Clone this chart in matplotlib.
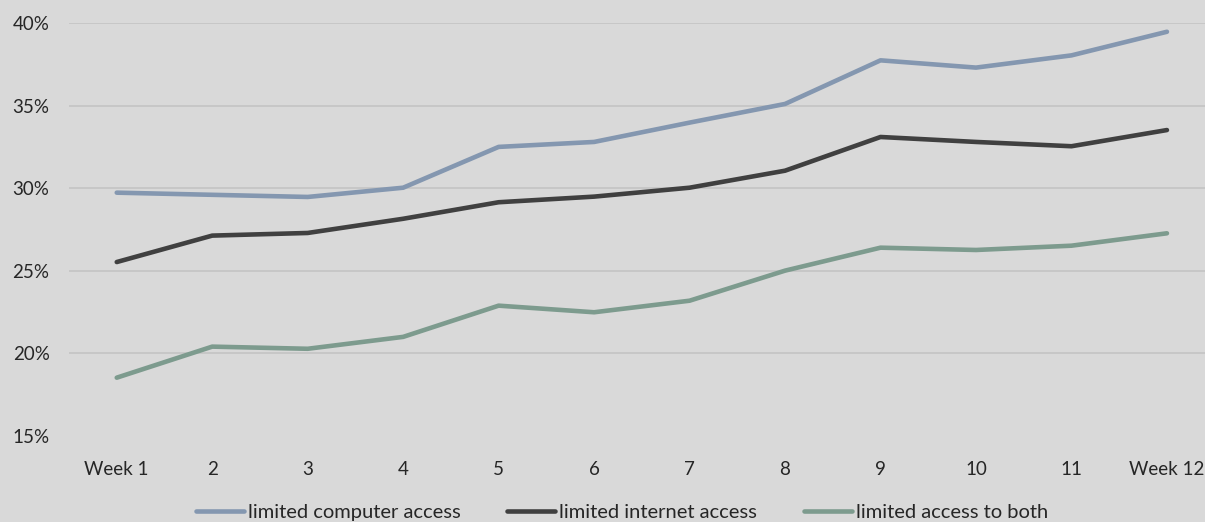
import matplotlib
matplotlib.use("Agg")
import matplotlib.pyplot as plt
from matplotlib.ticker import FuncFormatter

weeks = ["Week 1", "2", "3", "4", "5", "6", "7", "8", "9", "10", "11", "Week 12"]
computer = [29.73, 29.6, 29.47, 30.03, 32.5, 32.8, 33.97, 35.1, 37.74, 37.3, 38.04, 39.47]
internet = [25.53, 27.13, 27.29, 28.15, 29.15, 29.49, 30.03, 31.06, 33.1, 32.8, 32.54, 33.52]
both = [18.53, 20.41, 20.28, 21.0, 22.89, 22.49, 23.19, 25.01, 26.4, 26.26, 26.52, 27.27]
series_names = ["limited computer access", "limited internet access", "limited access to both"]
series_colors = ["#8497b0", "#404040", "#7d9b8e"]

plt.rcParams["font.family"] = ["Lato", "DejaVu Sans"]
bg = "#d9d9d9"

W, H = 1205, 522
fig = plt.figure(figsize=(W / 100, H / 100), dpi=100, facecolor=bg)
ax = fig.add_axes([69 / W, (H - 436) / H, (W - 69) / W, (436 - 23) / H])
ax.set_facecolor(bg)

x = list(range(len(weeks)))
for vals, name, col in zip([computer, internet, both], series_names, series_colors):
    ax.plot(x, vals, color=col, lw=3.3, solid_capstyle="round",
            solid_joinstyle="round", label=name)

ax.set_ylim(15, 40)
ax.set_yticks([15, 20, 25, 30, 35, 40])
ax.yaxis.set_major_formatter(FuncFormatter(lambda v, p: f"{v:.0f}%"))
ax.set_xticks(x)
ax.set_xticklabels(weeks)
ax.set_xlim(-0.5, (1205 - 117) / 95.45)

ax.grid(axis="y", color="#c4c4c4", lw=1.2)
ax.yaxis.get_gridlines()[0].set_visible(False)
ax.set_axisbelow(True)
for s in ax.spines.values():
    s.set_visible(False)
ax.tick_params(axis="both", length=0, labelsize=13.5, colors="#262626")
ax.tick_params(axis="y", pad=14)
ax.tick_params(axis="x", pad=18)

fig.legend(loc="center", bbox_to_anchor=(622 / W, (H - 512) / H), ncol=3,
           frameon=False, fontsize=14.5, handlelength=2.4, handletextpad=0.2,
           columnspacing=2.3, labelcolor="#262626")

fig.savefig("out.png", dpi=100, facecolor=bg)
